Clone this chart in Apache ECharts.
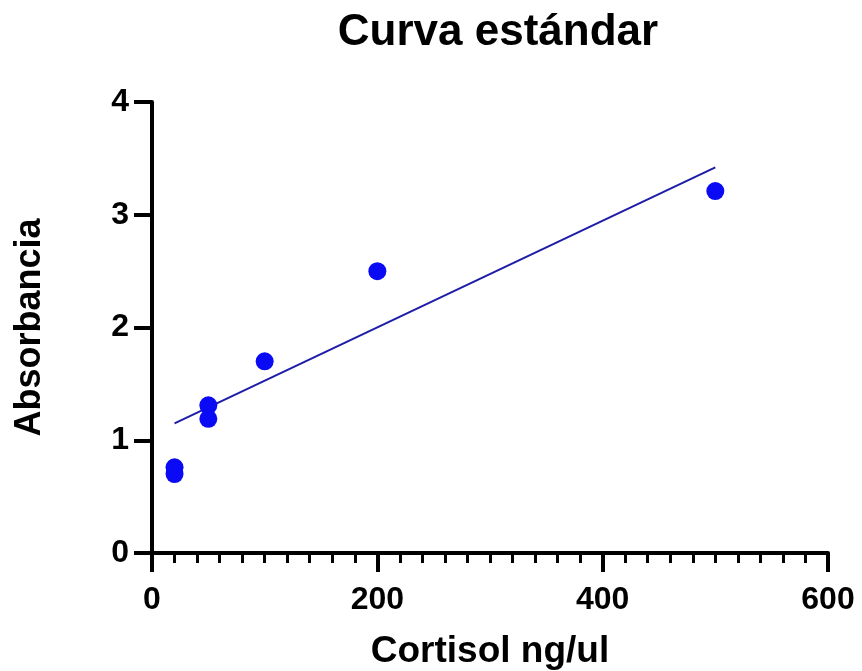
<!DOCTYPE html>
<html>
<head>
<meta charset="utf-8">
<script src="https://cdn.jsdelivr.net/npm/echarts@6/dist/echarts.min.js"></script>
<style>
  html, body { margin: 0; padding: 0; background: #fff; }
  #chart { width: 862px; height: 671px; }
</style>
</head>
<body>
<div id="chart"></div>
<script>
// puntos de la curva estándar (cortisol ng/ul, absorbancia)
var cortisol = [20, 20, 50, 50, 100, 200, 500];
var absorbancia = [0.76, 0.70, 1.31, 1.19, 1.70, 2.50, 3.21];
var fitX = [20, 500];
var fitY = [1.15, 3.42];
var xTicks = [0, 200, 400, 600];
var yTicks = [0, 1, 2, 3, 4];

var font = '"Liberation Sans", Arial, sans-serif';

var chart = echarts.init(document.getElementById('chart'));
chart.setOption({
    backgroundColor: '#fff',
    animation: false,
    title: {
        text: 'Curva estándar',
        left: 493,
        textAlign: 'center',
        top: 6,
        textStyle: { fontFamily: font, fontWeight: 'bold', fontSize: 44, color: '#000' }
    },
    grid: { left: 152, right: 34, top: 102, bottom: 118, outerBoundsMode: 'none' },
    xAxis: {
        type: 'value',
        min: xTicks[0],
        max: xTicks[xTicks.length - 1],
        interval: 200,
        name: 'Cortisol ng/ul',
        nameLocation: 'middle',
        nameGap: 80,
        nameTextStyle: { fontFamily: font, fontWeight: 'bold', fontSize: 37, color: '#000' },
        axisLine: { lineStyle: { color: '#000', width: 4 } },
        axisTick: { length: 19, lineStyle: { color: '#000', width: 4 } },
        minorTick: { show: true, splitNumber: 10, length: 10, lineStyle: { color: '#000', width: 3 } },
        splitLine: { show: false },
        axisLabel: { margin: 31, fontFamily: font, fontWeight: 'bold', fontSize: 32, color: '#000' }
    },
    yAxis: {
        type: 'value',
        min: yTicks[0],
        max: yTicks[yTicks.length - 1],
        interval: 1,
        name: 'Absorbancia',
        nameLocation: 'middle',
        nameGap: 104,
        nameTextStyle: { fontFamily: font, fontWeight: 'bold', fontSize: 36, color: '#000' },
        axisLine: { show: true, lineStyle: { color: '#000', width: 4 } },
        axisTick: { show: true, length: 18, lineStyle: { color: '#000', width: 4 } },
        splitLine: { show: false },
        axisLabel: { margin: 23, fontFamily: font, fontWeight: 'bold', fontSize: 32, color: '#000' }
    },
    series: [
        {
            type: 'line',
            data: fitX.map(function (x, i) { return [x, fitY[i]]; }),
            showSymbol: false,
            lineStyle: { color: '#1c1ca8', width: 2 },
            z: 2
        },
        {
            type: 'scatter',
            data: cortisol.map(function (x, i) { return [x, absorbancia[i]]; }),
            symbolSize: 18,
            itemStyle: { color: '#0a0af5', opacity: 1 },
            z: 3
        }
    ]
});
</script>
</body>
</html>
